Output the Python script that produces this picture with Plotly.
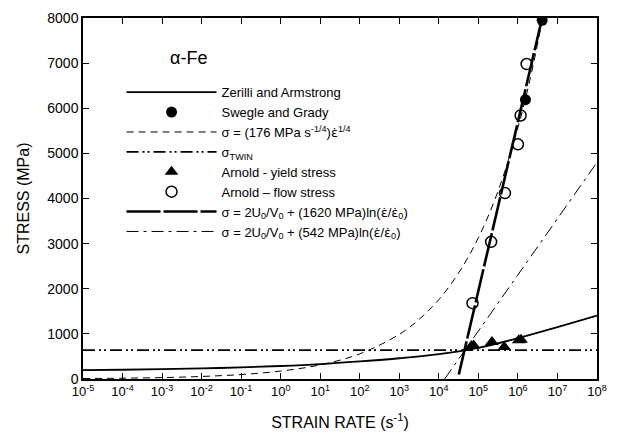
import plotly.graph_objects as go

# ---------------- data ----------------
za_rate = [1e-5, 1e-4, 1e-3, 1e-2, 1e-1, 1e0, 1e1, 1e2, 1e3, 1e4, 1e5, 1e6, 1e7, 1e8]
za_stress = [195, 205, 218, 235, 258, 288, 330, 390, 460, 550, 690, 905, 1150, 1405]

sg_rate = [1.55e6, 4.1e6]
sg_stress = [6190, 7950]

pw_rate = [1e-5, 1e-4, 1e-3, 1e-2, 1e-1, 1e0, 1e1, 1e2, 1e3, 3.16e3, 1e4, 3.16e4,
           1e5, 3.16e5, 1e6, 2e6, 4.2e6]
pw_stress = [10, 18, 31, 56, 99, 176, 313, 557, 990, 1320, 1760, 2350,
             3130, 4170, 5570, 6620, 7980]

twin_rate = [1e-5, 1e8]
twin_stress = [640, 640]

ay_rate = [6.7e4, 7.6e4, 2.2e5, 4.5e5, 1.05e6, 1.2e6]
ay_stress = [730, 740, 820, 710, 860, 870]

af_rate = [7.1e4, 2.1e5, 4.7e5, 1.0e6, 1.17e6, 1.66e6]
af_stress = [1680, 3040, 4120, 5200, 5840, 6980]

l1620_rate = [3.2e4, 4.1e6]
l1620_stress = [100, 8000]

l542_rate = [1.4e4, 1e8]
l542_stress = [0, 4800]

x_tickvals = [1e-5, 1e-4, 1e-3, 1e-2, 1e-1, 1e0, 1e1, 1e2, 1e3, 1e4, 1e5, 1e6, 1e7, 1e8]
x_ticktext = ["10<sup>-5</sup>", "10<sup>-4</sup>", "10<sup>-3</sup>", "10<sup>-2</sup>",
              "10<sup>-1</sup>", "10<sup>0</sup>", "10<sup>1</sup>", "10<sup>2</sup>",
              "10<sup>3</sup>", "10<sup>4</sup>", "10<sup>5</sup>", "10<sup>6</sup>",
              "10<sup>7</sup>", "10<sup>8</sup>"]
y_tickvals = [0, 1000, 2000, 3000, 4000, 5000, 6000, 7000, 8000]

EDOT = "<span style='font-family:DejaVu Sans'>\u03b5\u0307</span>"
FONT = "Arial, Liberation Sans, sans-serif"

fig = go.Figure()

fig.add_trace(go.Scatter(x=za_rate, y=za_stress, mode="lines", name="Zerilli and Armstrong",
                         line=dict(color="black", width=1.8, shape="spline")))
fig.add_trace(go.Scatter(x=sg_rate, y=sg_stress, mode="markers", name="Swegle and Grady",
                         marker=dict(symbol="circle", size=11, color="black")))
fig.add_trace(go.Scatter(x=pw_rate, y=pw_stress, mode="lines",
                         name="\u03c3 = (176 MPa s<sup>-1/4</sup>)" + EDOT + "<sup>1/4</sup>",
                         line=dict(color="black", width=1, dash="7px,5px", shape="spline")))
fig.add_trace(go.Scatter(x=twin_rate, y=twin_stress, mode="lines",
                         name="\u03c3<sub>TWIN</sub>",
                         line=dict(color="black", width=1.6, dash="12px,4px,2px,3px,2px,4px")))
fig.add_trace(go.Scatter(x=ay_rate, y=ay_stress, mode="markers", name="Arnold - yield stress",
                         marker=dict(symbol="triangle-up", size=12, color="black")))
fig.add_trace(go.Scatter(x=af_rate, y=af_stress, mode="markers", name="Arnold \u2013 flow stress",
                         marker=dict(symbol="circle-open", size=11, color="black",
                                     line=dict(width=1.5, color="black"))))
fig.add_trace(go.Scatter(x=l1620_rate, y=l1620_stress, mode="lines",
                         name="\u03c3 = 2U<sub>0</sub>/V<sub>0</sub> + (1620 MPa)ln(" + EDOT + "/" + EDOT + "<sub>0</sub>)",
                         line=dict(color="black", width=2.6, dash="34px,3px")))
fig.add_trace(go.Scatter(x=l542_rate, y=l542_stress, mode="lines",
                         name="\u03c3 = 2U<sub>0</sub>/V<sub>0</sub> + (542 MPa)ln(" + EDOT + "/" + EDOT + "<sub>0</sub>)",
                         line=dict(color="black", width=1, dash="12px,5px,3px,5px")))

axis_common = dict(showline=True, linecolor="black", linewidth=1.5, mirror="ticks",
                   ticks="inside", ticklen=6, tickwidth=1.2, tickcolor="black",
                   showgrid=False, zeroline=False)

fig.update_xaxes(type="log", range=[-5, 8], tickvals=x_tickvals, ticktext=x_ticktext,
                 tickfont=dict(family=FONT, size=13, color="black"),
                 title=dict(text="STRAIN RATE (s<sup>-1</sup>)", standoff=18,
                            font=dict(family=FONT, size=16, color="black")),
                 **axis_common)
fig.update_yaxes(range=[0, 8000], tickvals=y_tickvals,
                 tickfont=dict(family=FONT, size=14, color="black"),
                 title=dict(text="STRESS (MPa)", standoff=14,
                            font=dict(family=FONT, size=16, color="black")),
                 **axis_common)

fig.add_annotation(text="\u03b1-Fe", xref="paper", yref="paper", x=0.205, y=0.89,
                   showarrow=False, xanchor="center", yanchor="middle",
                   font=dict(family=FONT, size=18, color="black"))

fig.update_layout(
    width=617, height=439,
    margin=dict(l=83, r=10, t=16, b=58),
    paper_bgcolor="white", plot_bgcolor="white",
    font=dict(family=FONT, color="black"),
    showlegend=True,
    legend=dict(x=0.075, y=0.836, xanchor="left", yanchor="top",
                bgcolor="rgba(0,0,0,0)", borderwidth=0, itemwidth=90,
                font=dict(family=FONT, size=13, color="black"),
                tracegroupgap=0),
)

fig.write_html("out.html")
